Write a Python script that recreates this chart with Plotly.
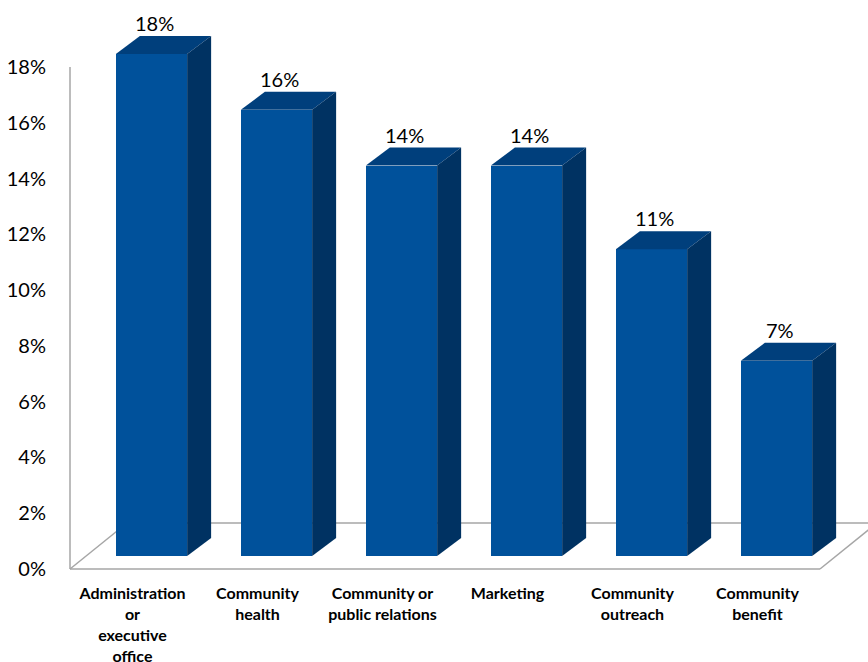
import plotly.graph_objects as go

# Share of respondents by department
categories = [
    "Administration<br>or<br>executive<br>office",
    "Community<br>health",
    "Community or<br>public relations",
    "Marketing",
    "Community<br>outreach",
    "Community<br>benefit",
]
shares = [18, 16, 14, 14, 11, 7]
y_tick_values = [0, 2, 4, 6, 8, 10, 12, 14, 16, 18]
y_tick_labels = [f"{v}%" for v in y_tick_values]

# colours of the three visible faces of each block
FRONT = "#00519b"
TOP = "#003f7c"
SIDE = "#003262"
FLOOR_LINE = "#a6a6a6"

# pseudo-3D geometry, in axis units
BAR_W = 0.57
SHIFT_X, SHIFT_Y = 0.152, 0.466    # bar front plane sits behind the floor edge
DEPTH_X, DEPTH_Y = 0.192, 0.645    # depth of each block
FLOOR_X, FLOOR_Y = 0.456, 1.649    # depth of the floor

FONT = "Lato, Carlito, Calibri, sans-serif"

xs = list(range(len(categories)))
bar_x = [i + SHIFT_X for i in xs]

fig = go.Figure()
fig.add_trace(go.Bar(
    x=bar_x, y=shares, base=SHIFT_Y, width=BAR_W,
    marker=dict(color=FRONT, line=dict(width=0)),
    hoverinfo="skip", showlegend=False,
))

shapes = []
x0 = -0.5
x_end = len(categories) - 0.5
# floor outline and value axis line, behind the blocks
line = dict(color=FLOOR_LINE, width=1.5)
shapes += [
    dict(type="line", xref="x", yref="y", x0=x0, y0=0, x1=x_end, y1=0, line=line, layer="below"),
    dict(type="line", xref="x", yref="y", x0=x0, y0=0, x1=x0 + FLOOR_X, y1=FLOOR_Y, line=line, layer="below"),
    dict(type="line", xref="x", yref="y", x0=x0 + FLOOR_X, y0=FLOOR_Y, x1=x_end + 1, y1=FLOOR_Y, line=line, layer="below"),
    dict(type="line", xref="x", yref="y", x0=x_end, y0=0, x1=x_end + FLOOR_X, y1=FLOOR_Y, line=line, layer="below"),
    dict(type="line", xref="x", yref="y", x0=x0, y0=0, x1=x0, y1=y_tick_values[-1], line=line, layer="below"),
]

annotations = []
for xc, v in zip(bar_x, shares):
    l, r = xc - BAR_W / 2, xc + BAR_W / 2
    b, t = SHIFT_Y, SHIFT_Y + v
    top_path = (f"M {l},{t} L {l + DEPTH_X},{t + DEPTH_Y} "
                f"L {r + DEPTH_X},{t + DEPTH_Y} L {r},{t} Z")
    side_path = (f"M {r},{b} L {r + DEPTH_X},{b + DEPTH_Y} "
                 f"L {r + DEPTH_X},{t + DEPTH_Y} L {r},{t} Z")
    shapes.append(dict(type="path", xref="x", yref="y", path=top_path,
                       fillcolor=TOP, line=dict(width=0), layer="above"))
    shapes.append(dict(type="path", xref="x", yref="y", path=side_path,
                       fillcolor=SIDE, line=dict(width=0), layer="above"))
    annotations.append(dict(
        x=xc, y=t + DEPTH_Y, xref="x", yref="y", text=f"{v}%",
        showarrow=False, yanchor="bottom", xshift=3, yshift=-1,
        font=dict(family=FONT, size=20, color="#000000"),
    ))

fig.update_layout(
    width=868, height=662,
    margin=dict(l=60, r=0, t=0, b=83),
    paper_bgcolor="white", plot_bgcolor="white",
    shapes=shapes, annotations=annotations,
    bargap=0,
    xaxis=dict(
        range=[-0.58, 5.884], tickmode="array", tickvals=xs, ticktext=categories,
        showgrid=False, zeroline=False, showline=False, automargin=False,
        ticks="outside", ticklen=0, tickcolor="rgba(0,0,0,0)",
        tickfont=dict(family=FONT, size=16, color="#000000", weight="bold"),
    ),
    yaxis=dict(
        range=[-0.3586, 20.402], tickmode="array", tickvals=y_tick_values, ticktext=y_tick_labels,
        showgrid=False, zeroline=False, showline=False, automargin=False,
        ticks="outside", ticklen=9, tickcolor="rgba(0,0,0,0)",
        tickfont=dict(family=FONT, size=20, color="#000000"),
    ),
)

fig.write_html("out.html")
